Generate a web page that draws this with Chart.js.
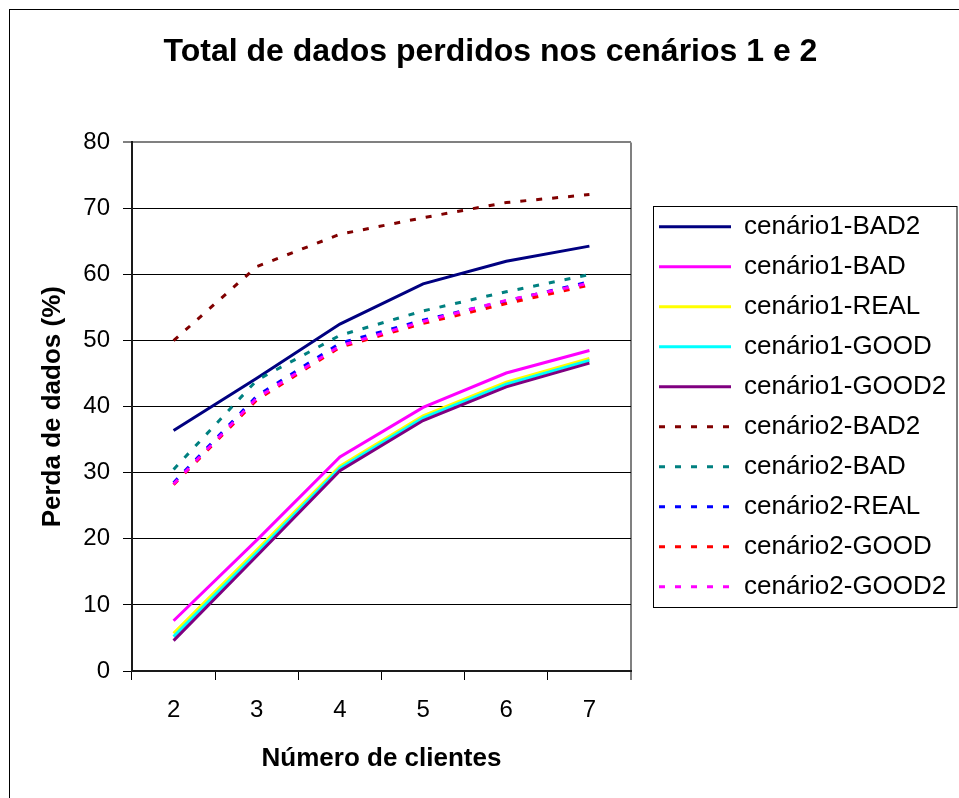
<!DOCTYPE html>
<html>
<head>
<meta charset="utf-8">
<title>Total de dados perdidos nos cenários 1 e 2</title>
<script src="https://cdn.jsdelivr.net/npm/chart.js@4.4.0/dist/chart.umd.min.js"></script>
<style>
  html, body { margin: 0; padding: 0; background: #fff; }
</style>
</head>
<body>
<canvas id="chart" width="959" height="798"></canvas>
<script>
// number of clients (x categories)
const clientes = ['2', '3', '4', '5', '6', '7'];

// scenario 1 (solid lines)
const c1Bad2  = [36.4, 44.3, 52.5, 58.6, 62.0, 64.3];
const c1Bad   = [7.6, 19.8, 32.4, 39.9, 45.1, 48.5];
const c1Real  = [5.7, 18.3, 31.0, 38.6, 43.7, 47.3];
const c1Good  = [5.2, 17.9, 30.7, 38.3, 43.4, 47.0];
const c1Good2 = [4.6, 17.4, 30.3, 37.9, 43.0, 46.6];

// scenario 2 (dashed lines)
const c2Bad2  = [50.0, 61.2, 66.1, 68.6, 70.9, 72.1];
const c2Bad   = [30.5, 44.0, 50.8, 54.5, 57.4, 60.0];
const c2Real  = [28.5, 41.6, 49.6, 53.1, 56.0, 58.9];
const c2Good  = [28.2, 41.0, 49.0, 52.6, 55.6, 58.4];
const c2Good2 = [28.3, 41.3, 49.2, 52.9, 56.1, 58.7];

const yMin = 0, yMax = 80, yStep = 10;

Chart.defaults.font.family = '"Liberation Sans", Arial, sans-serif';
Chart.defaults.color = '#000';

const dash = [6, 10];
const series = [
  ['cenário1-BAD2',  c1Bad2,  '#000080', []],
  ['cenário1-BAD',   c1Bad,   '#FF00FF', []],
  ['cenário1-REAL',  c1Real,  '#FFFF00', []],
  ['cenário1-GOOD',  c1Good,  '#00FFFF', []],
  ['cenário1-GOOD2', c1Good2, '#800080', []],
  ['cenário2-BAD2',  c2Bad2,  '#800000', dash],
  ['cenário2-BAD',   c2Bad,   '#008080', dash],
  ['cenário2-REAL',  c2Real,  '#0000FF', dash],
  ['cenário2-GOOD',  c2Good,  '#FF0000', dash],
  ['cenário2-GOOD2', c2Good2, '#FF00FF', dash]
];

const datasets = series.map(([label, data, color, borderDash], i) => ({
  label: label,
  data: data,
  borderColor: color,
  backgroundColor: color,
  borderWidth: 3,
  borderDash: borderDash,
  borderCapStyle: 'butt',
  pointRadius: 0,
  pointStyle: 'line',
  tension: 0,
  fill: false,
  order: series.length - i   // later series on top, like the original
}));

// title centred on the outer frame, legend moved right of the plot with a gap
const placePlugin = {
  id: 'place',
  afterLayout(chart) {
    const t = chart.titleBlock;
    if (t) { t.left = 22; t.right = chart.width; t.width = t.right - t.left; }
    const lg = chart.legend;
    if (lg) { lg.left = 645; lg.right = chart.width; lg.width = lg.right - lg.left; }
  }
};

// outer frame and legend border
const framePlugin = {
  id: 'frame',
  beforeDraw(chart) {
    const ctx = chart.ctx;
    ctx.save();
    ctx.fillStyle = '#fff';
    ctx.fillRect(0, 0, chart.width, chart.height);
    ctx.strokeStyle = '#000';
    ctx.lineWidth = 1;
    ctx.strokeRect(9.5, 9.5, chart.width, chart.height);
    ctx.restore();
  },
  afterDraw(chart) {
    const lg = chart.legend;
    const hb = lg.legendHitBoxes;
    if (!hb || !hb.length) return;
    const last = hb[hb.length - 1];
    const top = Math.round(hb[0].top - 8) + 0.5;
    const bottom = Math.round(last.top + last.height + 7) + 0.5;
    const left = Math.round(lg.left + 8) + 0.5;
    const ctx = chart.ctx;
    ctx.save();
    ctx.strokeStyle = '#000';
    ctx.lineWidth = 1;
    ctx.strokeRect(left, top, chart.width - 2 - left, bottom - top);
    ctx.restore();
  }
};

new Chart(document.getElementById('chart'), {
  type: 'line',
  data: { labels: clientes, datasets: datasets },
  plugins: [placePlugin, framePlugin],
  options: {
    responsive: false,
    animation: false,
    devicePixelRatio: 1,
    layout: { padding: { left: 0, right: 128, top: 0, bottom: 0 } },
    plugins: {
      title: {
        display: true,
        text: 'Total de dados perdidos nos cenários 1 e 2',
        color: '#000',
        font: { size: 32, weight: 'bold' },
        padding: { top: 33, bottom: 71 }
      },
      legend: {
        position: 'right',
        fullSize: false,
        align: 'center',
        maxWidth: 200,
        labels: {
          usePointStyle: true,
          pointStyle: 'line',
          pointStyleWidth: 72,
          padding: 14,
          color: '#000',
          font: { size: 26 },
          sort: (a, b) => a.datasetIndex - b.datasetIndex,
          generateLabels: chart => {
            const items = Chart.defaults.plugins.legend.labels.generateLabels(chart);
            items.forEach(it => {
              it.lineDash = chart.data.datasets[it.datasetIndex].borderDash;
            });
            return items;
          }
        }
      },
      tooltip: { enabled: false }
    },
    scales: {
      x: {
        type: 'category',
        offset: true,
        grid: {
          offset: true,
          drawOnChartArea: true,
          color: c => c.type === 'tick' ? 'rgba(0,0,0,0)' : '#808080',
          lineWidth: c => c.type === 'tick' ? 1 : 2,
          tickColor: '#000',
          tickWidth: 1,
          tickLength: 9
        },
        border: { color: '#1a1a1a', width: 2 },
        ticks: { color: '#000', font: { size: 24 }, padding: 16 },
        title: {
          display: true,
          text: 'Número de clientes',
          color: '#000',
          font: { size: 26, weight: 'bold' },
          padding: { top: 0, bottom: 24 }
        },
        afterFit: s => { s.height = 127; }
      },
      y: {
        min: yMin,
        max: yMax,
        ticks: { stepSize: yStep, color: '#000', font: { size: 24 }, padding: 13 },
        grid: {
          color: c => (c.tick && c.tick.value === yMax) ? '#808080' : '#000',
          lineWidth: c => (c.tick && c.tick.value === yMax) ? 2 : 1,
          tickColor: '#000',
          tickWidth: 1,
          tickLength: 9
        },
        border: { color: '#1a1a1a', width: 2 },
        title: {
          display: true,
          text: 'Perda de dados (%)',
          color: '#000',
          font: { size: 26, weight: 'bold' },
          padding: { top: 37, bottom: 0 }
        },
        afterFit: s => { s.width = 132; }
      }
    }
  }
});
</script>
</body>
</html>
